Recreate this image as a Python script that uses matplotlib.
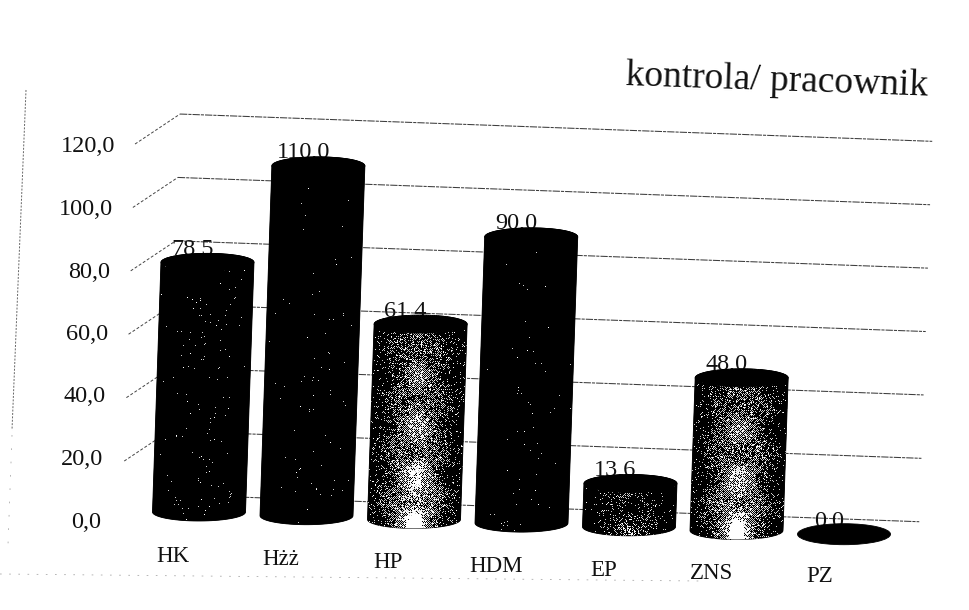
import matplotlib
matplotlib.use('Agg')
import matplotlib.pyplot as plt
import numpy as np
from matplotlib.patches import Ellipse, PathPatch
from matplotlib.path import Path
from matplotlib.transforms import Affine2D

plt.rcParams['font.family'] = ['Liberation Serif', 'DejaVu Serif']

categories = ['HK', 'Hżż', 'HP', 'HDM', 'EP', 'ZNS', 'PZ']
values = [78.5, 110.0, 61.4, 90.0, 13.6, 48.0, 0.0]
value_labels = ['78,5', '110,0', '61,4', '90,0', '13,6', '48,0', '0,0']
grid_values = [0, 20, 40, 60, 80, 100, 120]
tick_labels = ['0,0', '20,0', '40,0', '60,0', '80,0', '100,0', '120,0']
title = 'kontrola/ pracownik'
# how much of the scan's light halftone shows on each cylinder
bar_light = [0.03, 0.012, 1.5, 0.012, 0.45, 1.5, 0.0]

# Scanned page is slightly rotated, so everything goes through these
front = Affine2D.from_values(107.5, 3.7, 0.108, -3.18, 199, 512)  # bars
back = Affine2D.from_values(107.5, 3.9, 0.108, -3.17, 199, 495.6)  # back wall
ticks = Affine2D.from_values(0, 0, 0.117, -3.125, 101, 522)  # value axis labels
cat_labels = Affine2D.from_values(107.7, 3.5, 0, 1, 173, 556)

RX, RY = 46.5, 9

fig = plt.figure(figsize=(9.69, 6.10), dpi=100)
ax = fig.add_axes([0, 0, 1, 1])
ax.set_axis_off()


def fix_limits():
    ax.set_xlim(0, 969)
    ax.set_ylim(610, 0)


def grain(xx, yy, k):
    # fixed speckle from the pixel position
    return np.modf(np.abs(np.sin(xx * 12.9898 + yy * 78.233 + k) * 43758.5453))[0]


fix_limits()

# Gridlines plus the short stub on the side wall
for v in grid_values:
    x0, y0 = back.transform((-0.297, v))
    x1, y1 = back.transform((6.7, v))
    ax.plot([x0, x1], [y0, y1], color='#3c3c3c', lw=0.75,
            linestyle=(0, (7, 1, 3, 1)), zorder=1)
    if v > 0:
        ax.plot([x0 - 45, x0], [y0 + 30, y0], color='#444444', lw=0.7,
                linestyle=(0, (3, 2)), zorder=1)

for v, lab in zip(grid_values, tick_labels):
    x, y = ticks.transform((0, v))
    ax.text(x, y, lab, ha='right', va='center', fontsize=17.5, color='#111111')

for i, lab in enumerate(categories):
    x, y = cat_labels.transform((i, 0))
    ax.text(x, y, lab, ha='center', va='center', fontsize=16.5, color='#111111')

# Value labels sit behind the cylinders, the tops get cut off like in the scan
for i, (v, lab) in enumerate(zip(values, value_labels)):
    x, y = front.transform((i, v))
    ax.text(x - 15, y - 13, lab, ha='center', va='center', fontsize=17.5,
            color='#111111', zorder=2)

# Cylinders
for i, (v, light) in enumerate(zip(values, bar_light)):
    xb, yb = front.transform((i, 0))
    xt, yt = front.transform((i, v))
    t = np.linspace(0, np.pi, 40)
    if v > 0:
        lower = np.c_[xb + RX * np.cos(t), yb + RY * np.sin(t)]
        upper = np.c_[xt + RX * np.cos(t), yt - RY * np.sin(t)]
        verts = np.r_[lower, upper[::-1]]
        verts = np.r_[verts, verts[:1]]
        body = PathPatch(Path(verts), facecolor='black', edgecolor='black', lw=0.6, zorder=3)
        ax.add_patch(body)

        # speckled band down the middle, brightest near the foot
        px0, px1 = int(min(xb, xt) - RX - 2), int(max(xb, xt) + RX + 2)
        py0, py1 = int(yt - RY - 2), int(yb + RY + 2)
        yy, xx = np.mgrid[py0:py1, px0:px1]
        f = (yy - yt) / max(yb - yt, 1)
        cx = xt + (xb - xt) * f
        d = xx - cx
        band = np.exp(-(d / 28.0) ** 2)
        blotch = 0.7 + 0.3 * np.cos((yy - yt) / 8.0) * np.cos(d / 10.0)
        level = light * band * blotch * (0.55 + 0.6 * f)
        img = np.zeros_like(level)
        gray = (level > grain(xx, yy, 0.0)) & ((xx + yy) % 2 == 0)
        white = 0.35 * level ** 2 * np.exp(-(d / 10.0) ** 2) * (0.3 + 1.4 * f ** 3) > grain(xx, yy, 1.7)
        sparse = level * 0.12 > grain(xx, yy, 3.1)
        img[gray] = 0.8
        img[white | sparse] = 1.0
        im = ax.imshow(img, cmap='gray', vmin=0, vmax=1, extent=(px0, px1, py1, py0),
                       interpolation='nearest', aspect='auto', zorder=3.5)
        im.set_clip_path(body)
    ax.add_patch(Ellipse((xt, yt), 2 * RX, 2 * RY + (3 if v == 0 else 0),
                         facecolor='black', edgecolor='black', lw=0.6, zorder=4))

ax.text(777, 81, title, ha='center', va='center', fontsize=27, rotation=-2,
        rotation_mode='anchor', color='#111111')

# Page edge marks left by the scanner
ax.plot([26, 12], [90, 430], color='#666666', lw=0.7, linestyle=(0, (2, 1.5)), zorder=0)
ax.plot([12, 8], [435, 545], color='#aaaaaa', lw=0.6, linestyle=(0, (2, 14)), zorder=0)
ax.plot([0, 700], [574, 581], color='#aaaaaa', lw=0.6, linestyle=(0, (2, 9)), zorder=0)

fix_limits()
fig.savefig('out.png', dpi=100, facecolor='white')
